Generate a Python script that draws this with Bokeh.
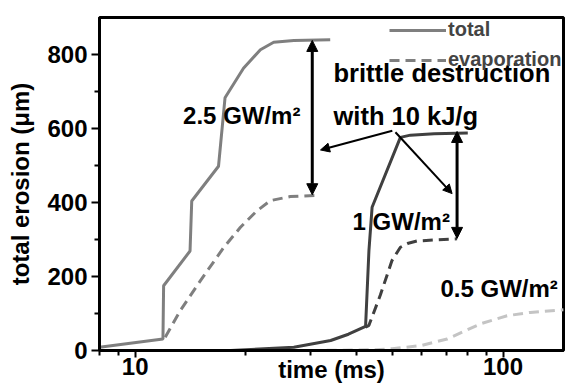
from bokeh.plotting import figure
from bokeh.models import Range1d, FixedTicker, Label, Arrow, NormalHead, Legend, LegendItem
from bokeh.embed import file_html
from bokeh.resources import INLINE

FONT = "Liberation Sans"

# ---- data (time in ms, erosion in micrometres) ----
t_total_25 = [8.0, 11.9, 11.95, 14.1, 14.25, 16.85, 17.55, 19.7, 21.9, 23.8, 27.0, 33.9]
v_total_25 = [9, 31, 175, 269, 404, 498, 683, 763, 813, 833, 838, 840]

t_evap_25 = [12.07, 13.27, 15.05, 17.4, 19.33, 21.4, 23.3, 26.4, 31.8]
v_evap_25 = [36, 108, 189, 278, 333, 377, 405, 416, 420]

t_total_10 = [8.0, 18.2, 27.0, 34.0, 38.0, 42.3, 43.2, 44.06, 52.6, 56.0, 65.0, 80.2]
v_total_10 = [0, 0, 9, 27, 44, 65, 270, 387, 576, 582, 586, 588]

t_evap_10 = [42.3, 43.2, 46.4, 49.9, 52.6, 55.3, 58.4, 75.0]
v_evap_10 = [63, 68, 150, 243, 279, 290, 296, 302]

t_evap_05 = [30.0, 45.0, 50.0, 59.6, 70.5, 86.8, 102.6, 118.7, 146.2]
v_evap_05 = [0, 2, 5, 13, 31, 72, 94, 103, 110]

x_ticks = [10, 100]
x_tick_labels = ["10", "100"]
x_minor = [8, 9, 20, 30, 40, 50, 60, 70, 80, 90]
y_ticks = [0, 200, 400, 600, 800]
y_minor = [100, 300, 500, 700]

c_25 = "#7f7f7f"
c_10 = "#404040"
c_05 = "#c4c4c4"

p = figure(width=565, height=386, x_axis_type="log",
           x_range=Range1d(8, 146), y_range=Range1d(0, 900),
           output_backend="svg", toolbar_location=None,
           min_border_left=99, min_border_right=2, min_border_top=17, min_border_bottom=36)
p.grid.visible = False
p.outline_line_color = "black"
p.outline_line_width = 3
p.background_fill_color = "white"
p.border_fill_color = "white"

r_tot25 = p.line(t_total_25, v_total_25, line_color=c_25, line_width=3)
r_ev25 = p.line(t_evap_25, v_evap_25, line_color=c_25, line_width=3, line_dash="10 6")
p.line(t_total_10, v_total_10, line_color=c_10, line_width=3)
p.line(t_evap_10, v_evap_10, line_color=c_10, line_width=3, line_dash="10 6")
p.line(t_evap_05, v_evap_05, line_color=c_05, line_width=3, line_dash="10 6")

# axes
for ax in (p.xaxis[0], p.yaxis[0]):
    ax.axis_line_width = 3
    ax.axis_line_color = "black"
    ax.major_tick_line_width = 2
    ax.minor_tick_line_width = 2
    ax.major_tick_in = 0
    ax.minor_tick_in = 0
    ax.major_label_text_font = FONT
    ax.major_label_text_font_style = "bold"
    ax.major_label_text_font_size = "24px"
    ax.major_label_text_color = "black"
    ax.axis_label_text_font = FONT
    ax.axis_label_text_font_style = "bold"
    ax.axis_label_text_font_size = "24px"
    ax.axis_label_text_color = "black"

p.xaxis.ticker = FixedTicker(ticks=x_ticks, minor_ticks=x_minor)
p.xaxis.major_label_overrides = dict(zip(x_ticks, x_tick_labels))
p.xaxis.major_tick_out = 7
p.xaxis.minor_tick_out = 5
p.xaxis.major_label_standoff = 0
p.xaxis.axis_label = "time (ms)"
p.xaxis.axis_label_standoff = -22

p.yaxis.ticker = FixedTicker(ticks=y_ticks, minor_ticks=y_minor)
p.yaxis.major_tick_out = 8
p.yaxis.minor_tick_out = 5
p.yaxis.major_label_standoff = 4
p.yaxis.axis_label = "total erosion (\u03bcm)"
p.yaxis.axis_label_standoff = 10

def lab(x, y, text, size="24px", align="left", baseline="alphabetic"):
    p.add_layout(Label(x=x, y=y, text=text, text_font=FONT, text_font_style="bold",
                       text_font_size=size, text_color="black",
                       text_align=align, text_baseline=baseline))

lab(13.5, 636, "2.5 GW/m\u00b2")
lab(34.6, 749, "brittle destruction", size="25.5px")
lab(34.6, 633, "with 10 kJ/g", size="25.5px")
lab(39.0, 350, "1 GW/m\u00b2")
lab(67.6, 168, "0.5 GW/m\u00b2")

# double-headed arrows between total and evaporation
def head(s):
    return NormalHead(size=s, fill_color="black", line_color="black", line_width=1)

p.add_layout(Arrow(start=head(11), end=head(11), x_start=30.3, y_start=838, x_end=30.3, y_end=421,
                   line_width=3, line_color="black"))
p.add_layout(Arrow(start=head(11), end=head(11), x_start=75.0, y_start=592, x_end=75.0, y_end=303,
                   line_width=3, line_color="black"))
# pointers from the brittle destruction note
p.add_layout(Arrow(end=head(9), x_start=50.0, y_start=594, x_end=31.9, y_end=542,
                   line_width=2, line_color="black"))
p.add_layout(Arrow(end=head(9), x_start=51.0, y_start=590, x_end=72.7, y_end=424,
                   line_width=2, line_color="black"))

legend = Legend(items=[LegendItem(label="total", renderers=[r_tot25]),
                       LegendItem(label="evaporation", renderers=[r_ev25])],
                location=(290, 279), glyph_width=57, glyph_height=20, label_height=20,
                spacing=7, padding=0, margin=0, label_standoff=2,
                label_text_font=FONT, label_text_font_style="bold", label_text_font_size="20px",
                border_line_alpha=0, background_fill_alpha=0)
p.add_layout(legend)

open("out.html", "w").write(file_html(p, INLINE))
